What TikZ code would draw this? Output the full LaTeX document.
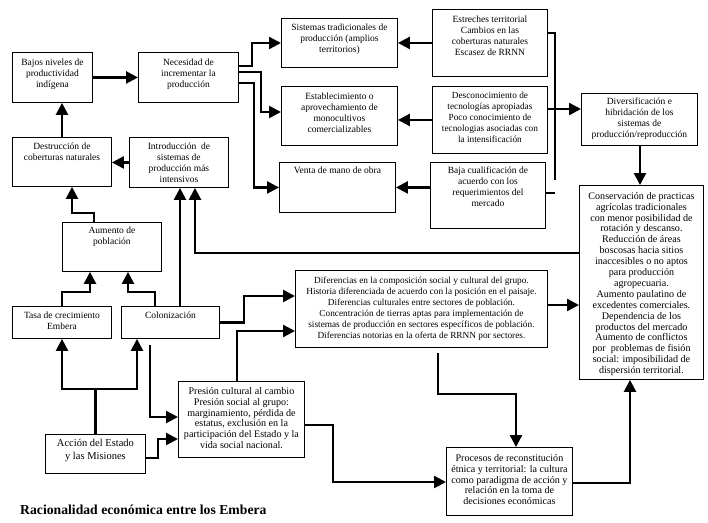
\documentclass[tikz,border=0pt]{standalone}
\usepackage{fontspec}
\setmainfont{Liberation Serif}
\usetikzlibrary{arrows.meta,calc}
\newcommand\fs{\fontsize{9.5}{11}\selectfont}
\newcommand\fsd{\fontsize{9.3}{11}\selectfont}
\newcommand\fsb{\fontsize{10.1}{10.9}\selectfont}
\tikzset{
  boxst/.style={draw, line width=0.9pt, inner sep=0pt, anchor=north west},
  txt/.style={align=center, inner sep=0pt, anchor=north},
  ln/.style={line width=2.4pt},
  arr/.style={ln, -{Triangle[length=12pt,width=12pt]}},
}
\newcommand\bbox[8][\fs]{%
  \node[boxst, minimum width={#5-#3}, minimum height={#6-#4}] (#2) at (#3,#4) {};
  \node[txt, font=#1] (#2t) at ([yshift=-#7pt]#2.north) {#8};}
\begin{document}
\begin{tikzpicture}[x=1pt,y=-1pt]
\useasboundingbox (0,0) rectangle (708,522);
% boxes
\bbox{bajos}{12}{52}{92}{102}{7}{Bajos niveles de\\productividad\\indígena}
\bbox{nec}{138}{52}{238}{102}{7}{Necesidad de\\incrementar la\\producción}
\bbox{destr}{12}{137}{111}{186}{6}{Destrucción de\\coberturas naturales}
\bbox{intro}{129}{137}{228}{187}{6}{Introducción\ \ de\\sistemas de\\producción más\\intensivos}
\bbox{sist}{281}{18}{397}{67}{6}{Sistemas tradicionales de\\producción (amplios\\territorios)}
\bbox{estr}{432}{9}{547}{76}{7}{Estreches territorial\\Cambios en las\\coberturas naturales\\Escasez de RRNN}
\bbox{estab}{281}{86}{397}{145}{7}{Establecimiento o\\aprovechamiento de\\monocultivos\\comercializables}
\bbox[\fsd]{desc}{432}{86}{547}{153}{6}{Desconocimiento de\\tecnologías apropiadas\\Poco conocimiento de\\tecnologias asociadas con\\la intensificación}
\bbox{venta}{279}{162}{395}{212}{5}{Venta de mano de obra}
\bbox{baja}{430}{162}{545}{228}{5}{Baja cualificación de\\acuerdo con los\\requerimientos del\\mercado}
\bbox{diver}{581}{93}{697}{145}{5}{Diversificación e\\hibridación de los\\sistemas de\\producción/reproducción}
\bbox[\fsb]{conserv}{579}{185}{703}{379}{7}{Conservación de practicas\\agrícolas tradicionales\\con menor posibilidad de\\rotación y descanso.\\Reducción de áreas\\boscosas hacia sitios\\inaccesibles o no aptos\\para producción\\agropecuaria.\\Aumento paulatino de\\excedentes comerciales.\\Dependencia de los\\productos del mercado\\Aumento de conflictos\\por\ \ problemas de fisión\\social: imposibilidad de\\dispersión territorial.}
\bbox{aumento}{62}{222}{161}{271}{5}{Aumento de\\población}
\bbox{tasa}{12}{306}{111}{338}{6}{Tasa de crecimiento\\Embera}
\bbox{colon}{121}{306}{219}{338}{6}{Colonización}
\bbox[\fsd]{difer}{295}{270}{547}{347}{7}{Diferencias en la composición social y cultural del grupo.\\Historia diferenciada de acuerdo con la posición en el paisaje.\\Diferencias culturales entre sectores de población.\\Concentración de tierras aptas para implementación de\\sistemas de producción en sectores específicos de población.\\Diferencias notorias en la oferta de RRNN por sectores.}
\bbox[\fsb]{presion}{178}{381}{304}{457}{6}{Presión cultural al cambio\\Presión social al grupo:\\marginamiento, pérdida de\\estatus, exclusión en la\\participación del Estado y la\\vida social nacional.}
\bbox[\fontsize{10.5}{12.5}\selectfont]{accion}{45}{434}{145}{473}{5}{Acción del Estado\\y las Misiones}
\bbox[\fsb]{procesos}{446}{447}{572}{515}{7}{Procesos de reconstitución\\étnica y territorial: la cultura\\como paradigma de acción y\\relación en la toma de\\decisiones económicas}
\node[anchor=base west, inner sep=0pt, font=\bfseries\fontsize{13.7}{15}\selectfont] (title) at (20,514) {Racionalidad económica entre los Embera};
% connectors
\draw[arr] (bajos.east) -- (nec.west);
\draw[arr] ([xshift=50pt]destr.north west) -- ([xshift=50pt]bajos.south west);
\draw[arr] (intro.west) -- (intro.west -| destr.east);
\draw[arr] ([xshift=32pt]aumento.north west) -- ++(0,-9) -| ([xshift=60pt]destr.south west);
\draw[arr] ([xshift=50pt]tasa.north west) -- ++(0,-14) -| ([xshift=28pt]aumento.south west);
\draw[arr] ([xshift=34pt]colon.north west) -- ++(0,-14) -| ([xshift=66pt]aumento.south west);
\draw[arr] ([xshift=59pt]colon.north west) -- ([xshift=51pt]intro.south west);
\draw[arr] ([yshift=-68pt]conserv.north west) -| ([xshift=66pt]intro.south west);
\draw[arr] (colon.east) -- ++(24,0) |- ([yshift=-26pt]difer.north west);
\draw[arr] ([xshift=59pt]presion.north west) |- ([yshift=-61pt]difer.north west);
\coordinate (jn) at ([yshift=45pt]accion.north);
\draw[ln] (accion.north) -- (jn);
\draw[arr] (jn) -| ([xshift=50pt]tasa.south west);
\draw[arr] (jn) -| ([xshift=16pt]colon.south west);
\draw[arr] ([xshift=29pt,yshift=-6pt]colon.south west) |- ([yshift=-36pt]presion.north west);
\draw[arr] ([yshift=16pt]accion.south east) -- ++(12,0) |- ([yshift=-58pt]presion.north west);
\draw[arr] ([yshift=-44pt]presion.north east) -- ++(28,0) |- ([yshift=-35pt]procesos.north west);
\draw[arr] ([xshift=143pt,yshift=-5pt]difer.south west) -- ++(0,41) -| ([xshift=70pt]procesos.north west);
\draw[arr] ([yshift=-36pt]procesos.north east) -| ([xshift=51pt]conserv.south west);
\coordinate (dr) at ([yshift=-35pt]difer.north east);
\draw[arr] (dr) -- (dr -| conserv.west);
\coordinate (dv) at ([xshift=59pt]diver.south west);
\draw[arr] (dv) -- (dv |- conserv.north);
\draw[arr] ([yshift=-14pt]nec.north east) -- ++(13,0) |- ([yshift=-25pt]sist.north west);
\draw[arr] ([yshift=-20pt]nec.north east) -- ++(22,0) |- ([yshift=-26pt]estab.north west);
\draw[arr] ([yshift=-31pt]nec.north east) -- ++(15,0) |- (venta.west);
\draw[arr] (estr.west) -- (estr.west -| sist.east);
\draw[arr] (desc.west) -- (desc.west -| estab.east);
\draw[arr] (baja.west |- venta.east) -- (venta.east);
\draw[ln] ([yshift=-24pt]estr.north east) -- ++(7,0) -- ++(0,147);
\coordinate (dw) at ([yshift=-16pt]diver.north west);
\draw[arr] (desc.east |- dw) -- (dw);
\draw[ln] ([yshift=-31pt]baja.north east) -- ++(9,0);
\end{tikzpicture}
\end{document}
